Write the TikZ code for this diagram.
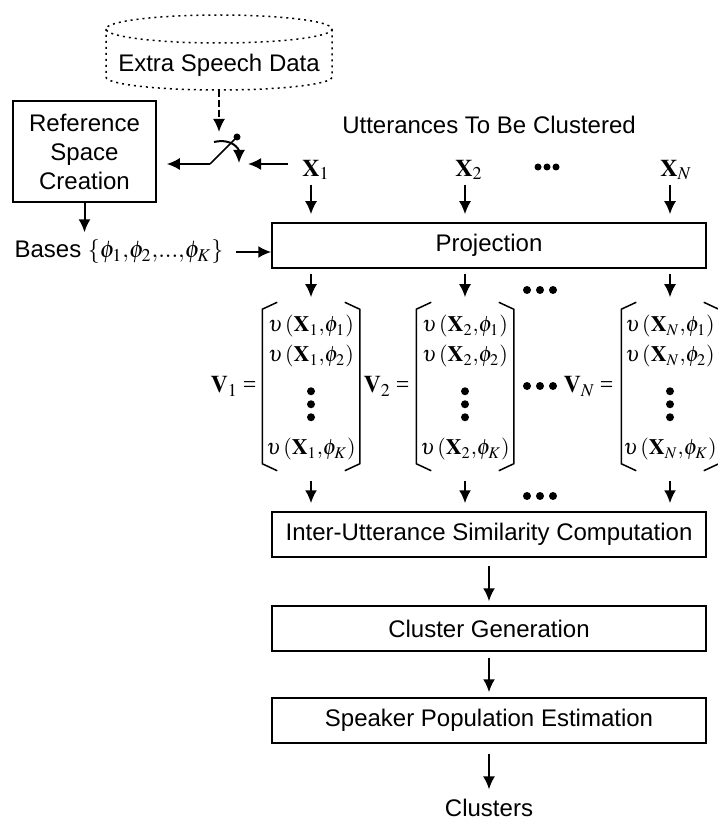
\documentclass[tikz,border=0pt]{standalone}
\usepackage{mathptmx}
\usepackage[no-math]{fontspec}
\setmainfont{Liberation Sans}
\newfontfamily\tmsfont{Liberation Serif}
\usetikzlibrary{arrows.meta,positioning,calc}
\newcommand{\vent}[2]{\upsilon\mkern2mu(\mathbf{X}_{#1}{,}\phi_{#2})}
\newcommand{\veq}[1]{$\mathbf{V}_{#1}$\hspace{2.5pt}{\tmsfont =}}
\tikzset{
    block/.style={
        draw,
        rectangle,
        line width=0.75pt,
        minimum width=217pt,
        minimum height=22.5pt,
        inner sep=0pt
    },
    refblock/.style={
        block,
        minimum width=71.5pt,
        minimum height=50.5pt,
        align=center
    },
    txt/.style={
        inner sep=0pt
    },
    entry/.style={
        inner sep=0pt,
        font=\fontsize{11}{13}\selectfont
    },
    vecbox/.style={
        inner sep=0pt,
        minimum width=48pt,
        minimum height=83.5pt
    },
    arr/.style={
        -{Latex[length=6.5pt,width=6pt]},
        line width=1pt
    },
    dbline/.style={
        line width=0.75pt,
        dash pattern=on 1pt off 2pt
    },
    swarr/.style={
        arr,
        dash pattern=on 3.5pt off 1.5pt
    },
}
\begin{document}
\begin{tikzpicture}[x=0.5pt, y=-0.5pt, font=\fontsize{12}{14.5}\selectfont, line width=0.75pt]
    \useasboundingbox (0,0) rectangle (717,823);

    % extra data store
    \node[txt] (data) at (219,65) {Extra Speech Data};
    \draw[dbline] (219,29) ellipse [x radius=113, y radius=14];
    \draw[dbline] (106,29) -- (106,77) arc [start angle=180, end angle=0, x radius=113, y radius=13] -- (332,29);
    \coordinate (dbbot) at (219,90);

    \node[refblock] (ref) at (84.5,151.5) {Reference\\Space\\Creation};
    \node[txt] (utt) at (489,125) {Utterances To Be Clustered};

    % switch
    \coordinate (swpivot) at (210,164);
    \coordinate (swdot) at (237,137);
    \coordinate (swin) at (248,164);
    \coordinate (swtop) at (219,132);

    \node[txt] (x1) at (316,170) {$\mathbf{X}_1$};
    \node[txt] (x2) at (469,170) {$\mathbf{X}_2$};
    \node[txt] (xN) at (676,170) {$\mathbf{X}_N$};

    \draw[swarr] (dbbot) -- (swtop);
    \draw (swpivot) -- (swdot);
    \fill (swdot) circle [radius=3.5];
    \draw[arr] ($(swdot)+(-23,5)$) .. controls ($(swdot)+(-5,1)$) and ($(swdot)+(2,12)$) .. ($(swdot)+(2,26)$);
    \draw[arr, shorten >=5pt] (swpivot) -- (ref.east |- swpivot);
    \draw[arr, shorten <=7pt] (x1.west |- swin) -- (swin);

    \node[block] (proj) at (489,245.5) {Projection};
    \node[txt] (bases) at (119,252) {Bases $\{\phi_1{,}\phi_2{,}...{,}\phi_K\}$};
    \draw[arr, shorten >=3.5pt] (ref) -- (ref.south |- bases.north);
    \draw[arr, shorten <=6pt] (bases) -- (bases -| proj.west);

    % projected vectors
    \node[vecbox] (m1) at (311,386.5) {};
    \node[vecbox] (m2) at (465,386.5) {};
    \node[vecbox] (mN) at (670,386.5) {};
    \node[txt, left=2.5pt of m1] (v1) {\veq{1}};
    \node[txt, left=3pt of m2] (v2) {\veq{2}};
    \node[txt, left=3.5pt of mN] (vN) {\veq{N}};

    \foreach \m/\s in {m1/1, m2/2, mN/N} {
        \node[entry] (\m-1) at ($(\m.north)+(0,24)$) {$\vent{\s}{1}$};
        \node[entry] (\m-2) at ($(\m.north)+(0,54)$) {$\vent{\s}{2}$};
        \node[entry] (\m-K) at ($(\m.north)+(0,147)$) {$\vent{\s}{K}$};
        \foreach \dy in {89,102,115}
            \fill ($(\m.north)+(0,\dy)$) circle [radius=4];
        \draw ([xshift=7.5pt]\m.north west) -- ([yshift=-3.5pt]\m.north west)
            -- ([yshift=3.5pt]\m.south west) -- ([xshift=7.5pt]\m.south west);
        \draw ([xshift=-7.5pt]\m.north east) -- ([yshift=-3.5pt]\m.north east)
            -- ([yshift=3.5pt]\m.south east) -- ([xshift=-7.5pt]\m.south east);
    }

    \node[block] (inter) at (489,534.5) {Inter-Utterance Similarity Computation};
    \node[block] (clgen) at (489,628.5) {Cluster Generation};
    \node[block] (spk) at (489,720.5) {Speaker Population Estimation};
    \node[txt] (clusters) at (489,808) {Clusters};

    \foreach \m in {m1,m2,mN} {
        \draw[arr, shorten <=2pt, shorten >=4pt] (\m.north |- x1.south) -- (\m.north |- proj.north);
        \draw[arr, shorten <=2.5pt, shorten >=2.5pt] (\m.north |- proj.south) -- (\m.north);
        \draw[arr, shorten <=5pt, shorten >=4pt] (\m.south) -- (\m.south |- inter.north);
    }

    % dots between columns
    \foreach \dx in {538,547,556}
        \fill (\dx,167) circle [radius=3.5];
    \foreach \dx in {527,540,553} {
        \fill (\dx,290) circle [radius=4];
        \fill (\dx,386) circle [radius=4];
        \fill (\dx,496) circle [radius=4];
    }

    \draw[arr, shorten <=4pt, shorten >=2pt] (inter) -- (clgen);
    \draw[arr, shorten <=3pt, shorten >=2.5pt] (clgen) -- (spk);
    \draw[arr, shorten <=5pt, shorten >=4.5pt] (spk) -- (clusters);
\end{tikzpicture}
\end{document}
